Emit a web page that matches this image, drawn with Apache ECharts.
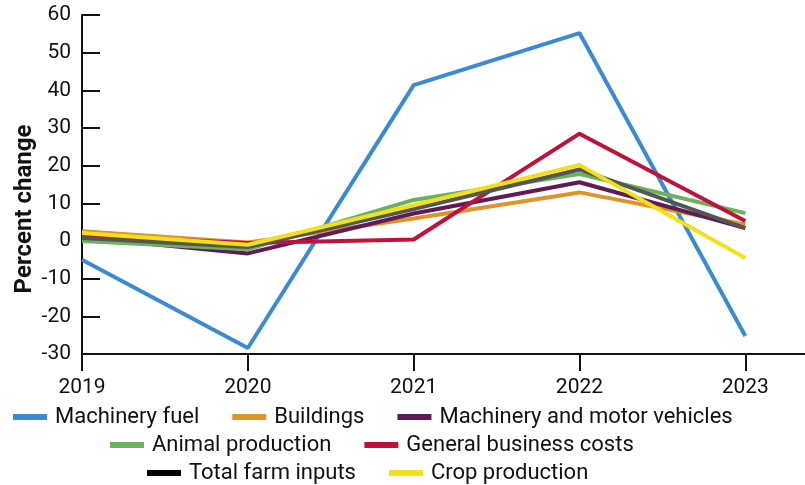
<!DOCTYPE html>
<html>
<head>
<meta charset="utf-8">
<script src="https://cdn.jsdelivr.net/npm/echarts@6/dist/echarts.min.js"></script>
<style>html,body{margin:0;padding:0;background:#fff}#c{width:805px;height:485px}</style>
</head>
<body>
<div id="c"></div>
<script>
const years = [2019, 2020, 2021, 2022, 2023];
const yTicks = [-30, -20, -10, 0, 10, 20, 30, 40, 50, 60];
const machineryFuel = [-5.0, -28.4, 41.4, 55.2, -25.2];
const buildings = [2.6, -0.4, 6.0, 12.9, 4.4];
const machineryVehicles = [1.0, -3.3, 7.3, 15.6, 3.4];
const animalProduction = [0.0, -2.2, 10.9, 17.8, 7.4];
const generalBusiness = [1.4, -0.5, 0.4, 28.5, 5.3];
const totalFarmInputs = [0.8, -1.6, 8.5, 19.0, 3.4];
const cropProduction = [2.1, -1.0, 9.5, 20.2, -4.5];

const seriesDefs = [
  {name: 'Machinery fuel', data: machineryFuel, color: '#3A8BD3'},
  {name: 'Buildings', data: buildings, color: '#DF9428'},
  {name: 'Machinery and motor vehicles', data: machineryVehicles, color: '#601A55'},
  {name: 'Animal production', data: animalProduction, color: '#6AB25D'},
  {name: 'General business costs', data: generalBusiness, color: '#C0103B'},
  {name: 'Total farm inputs', data: totalFarmInputs, color: '#000000', line: '#555555'},
  {name: 'Crop production', data: cropProduction, color: '#F1E01A'}
];

const font = 'Roboto';
const chart = echarts.init(document.getElementById('c'));
const legendBase = {
  orient: 'horizontal', icon: 'rect', itemWidth: 34, itemHeight: 6, itemGap: 33, padding: 0,
  textStyle: {fontFamily: font, fontSize: 22, color: '#111', padding: [0, 0, 0, 3]}
};
chart.setOption({
  animation: false,
  grid: {left: 82, right: 0, top: 15, bottom: 131, containLabel: false},
  xAxis: {
    type: 'value', min: 2019, max: 2023.36, interval: 1,
    axisLine: {onZero: false, lineStyle: {color: '#111', width: 2}},
    axisTick: {show: true, length: 17, customValues: years, lineStyle: {color: '#111', width: 2}},
    axisLabel: {customValues: years, fontFamily: font, fontSize: 21, color: '#111', margin: 23,
      formatter: v => String(v)},
    splitLine: {show: false}
  },
  yAxis: {
    type: 'value', min: -30, max: 60, interval: 10,
    axisLine: {show: true, onZero: false, lineStyle: {color: '#111', width: 2}},
    axisTick: {show: true, inside: true, length: 18, lineStyle: {color: '#111', width: 2}},
    axisLabel: {fontFamily: font, fontSize: 21, color: '#111', margin: 11},
    splitLine: {show: false}
  },
  graphic: [{
    type: 'text', x: 25, y: 209, rotation: Math.PI / 2,
    style: {text: 'Percent change', font: 'bold 24px ' + font, fill: '#111', align: 'center', verticalAlign: 'middle'}
  }],
  legend: [
    Object.assign({}, legendBase, {left: 13, top: 406, data: seriesDefs.slice(0, 3).map(s => s.name)}),
    Object.assign({}, legendBase, {left: 110, top: 434, data: seriesDefs.slice(3, 5).map(s => s.name)}),
    Object.assign({}, legendBase, {left: 147, top: 462, data: seriesDefs.slice(5, 7).map(s => s.name)})
  ],
  series: seriesDefs.map(s => ({
    name: s.name, type: 'line', symbol: 'none',
    data: years.map((y, i) => [y, s.data[i]]),
    itemStyle: {color: s.color},
    lineStyle: {color: s.line || s.color, width: 4}
  }))
});
</script>
</body>
</html>
